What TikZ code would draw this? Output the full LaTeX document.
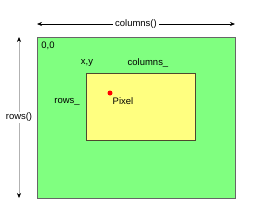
\documentclass[tikz,border=0pt]{standalone}
\usepackage{fontspec}
\setmainfont{Liberation Sans}
\definecolor{PixGreen}{HTML}{80FF80}
\definecolor{PixYellow}{HTML}{FFFF80}
\definecolor{PixRed}{HTML}{FF0000}
\usetikzlibrary{arrows.meta, positioning}

\begin{document}
\begin{tikzpicture}[x=1bp, y=-1bp,
      lbl/.style={font=\fontsize{9.5}{11}\selectfont, inner sep=1pt},
      image/.style={draw=gray!80!black, fill=PixGreen, line width=0.8pt},
      region/.style={draw=black!60!olive, fill=PixYellow, line width=0.8pt},
      dim/.style={{Stealth[length=5pt,width=4pt,color=black]}-{Stealth[length=5pt,width=4pt,color=black]}, line width=0.6pt}]

      % Frame of the picture
      \useasboundingbox (0,0) rectangle (254,218);

      % The image and the region inside it
      \draw[image] (37,37) rectangle (235,198);
      \draw[region] (86,73) rectangle (195,140);

      % Corner and region labels
      \node[lbl] (origin) at (48,46) {0,0};
      \node[lbl] (xy) at (87,63) {x,y};
      \node[lbl] (cols) at (148,63) {columns\_};
      \node[lbl] (rows) at (67,102) {rows\_};

      % The pixel
      \fill[PixRed] (110,93) circle (2.5);
      \node[lbl] (pixel) at (123,101) {Pixel};

      % Dimension lines
      \coordinate (tl) at (37,24);
      \coordinate (tr) at (235,24);
      \coordinate (lt) at (19,37);
      \coordinate (lb) at (19,198);
      \draw[dim] (tl) -- node[lbl, fill=white, inner sep=2pt] (colsall) {columns()} (tr);
      \draw[dim, draw=gray!60] (lt) -- node[lbl, fill=white, inner sep=1pt] (rowsall) {rows()} (lb);
   \end{tikzpicture}
\end{document}
